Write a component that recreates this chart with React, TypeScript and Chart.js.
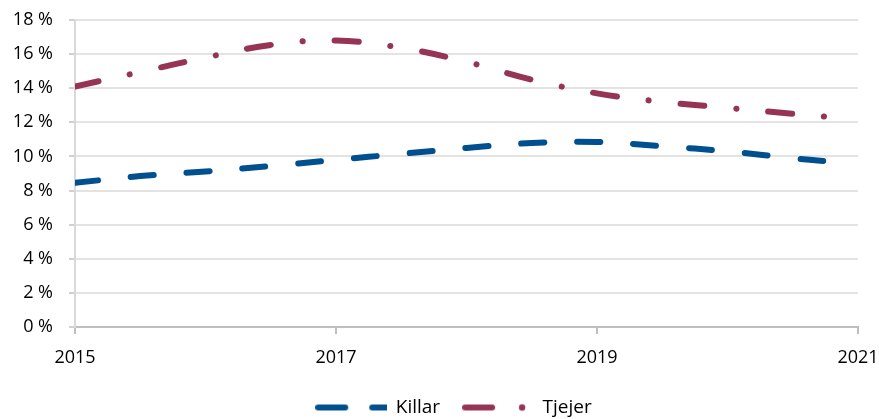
import { useEffect, useRef } from 'react';
import { Chart, registerables } from 'chart.js';

Chart.register(...registerables);

const years = [2015, 2015.5, 2016, 2016.5, 2017, 2017.5, 2018, 2018.5, 2019, 2019.5, 2020, 2020.5, 2020.8];
const killar = [8.45, 8.85, 9.12, 9.44, 9.8, 10.15, 10.5, 10.79, 10.85, 10.6, 10.3, 9.9, 9.68];
const tjejer = [14.1, 14.95, 15.8, 16.54, 16.8, 16.37, 15.55, 14.5, 13.7, 13.2, 12.85, 12.5, 12.3];
const xTicks = [2015, 2017, 2019, 2021];
const seriesNames = ['Killar', 'Tjejer'];

const KILLAR_COLOR = '#00508f';
const TJEJER_COLOR = '#963456';
const FONT = '"Open Sans", sans-serif';

function legendImage(kind: 'killar' | 'tjejer'): HTMLCanvasElement {
  const c = document.createElement('canvas');
  c.width = 72;
  c.height = 10;
  const ctx = c.getContext('2d')!;
  ctx.lineCap = 'round';
  ctx.lineWidth = 6;
  if (kind === 'killar') {
    ctx.strokeStyle = KILLAR_COLOR;
    ctx.beginPath();
    ctx.moveTo(3, 5);
    ctx.lineTo(30, 5);
    ctx.moveTo(57, 5);
    ctx.lineTo(71, 5);
    ctx.stroke();
  } else {
    ctx.strokeStyle = TJEJER_COLOR;
    ctx.fillStyle = TJEJER_COLOR;
    ctx.beginPath();
    ctx.moveTo(3, 5);
    ctx.lineTo(30, 5);
    ctx.stroke();
    ctx.beginPath();
    ctx.arc(60, 5, 3.2, 0, Math.PI * 2);
    ctx.fill();
  }
  return c;
}

const legendShift = {
  id: 'legendShift',
  afterLayout(chart: any) {
    if (chart.legend) {
      chart.legend.left += 29;
    }
  },
};

export default function App() {
  const ref = useRef<HTMLCanvasElement>(null);
  useEffect(() => {
    document.body.style.margin = '0';
    const imgs = [legendImage('killar'), legendImage('tjejer')];
    const chart = new Chart(ref.current!, {
      type: 'line',
      data: {
        datasets: [
          {
            label: seriesNames[0],
            data: years.map((x, i) => ({ x, y: killar[i] })),
            borderColor: KILLAR_COLOR,
            backgroundColor: KILLAR_COLOR,
            borderWidth: 6,
            borderDash: [23, 33],
            borderCapStyle: 'round',
            pointRadius: 0,
            tension: 0.4,
          },
          {
            label: seriesNames[1],
            data: years.map((x, i) => ({ x, y: tjejer[i] })),
            borderColor: TJEJER_COLOR,
            backgroundColor: TJEJER_COLOR,
            borderWidth: 6,
            borderDash: [24, 32, 0.1, 32],
            borderCapStyle: 'round',
            pointRadius: 0,
            tension: 0.4,
          },
        ],
      },
      plugins: [legendShift],
      options: {
        responsive: false,
        animation: false,
        layout: { padding: { top: 0, right: 0, left: 0, bottom: -8 } },
        scales: {
          x: {
            type: 'linear',
            min: 2015,
            max: 2021,
            afterBuildTicks: (scale: any) => {
              scale.ticks = xTicks.map((v) => ({ value: v }));
            },
            afterFit: (scale: any) => {
              scale.height = 48;
              scale.paddingRight = 21;
              scale.paddingLeft = 0;
            },
            ticks: {
              callback: (v: any) => String(v),
              color: '#000',
              font: { family: FONT, size: 18 },
              padding: 13,
              maxRotation: 0,
            },
            grid: {
              drawOnChartArea: false,
              drawTicks: true,
              tickLength: 7,
              color: '#bfbfbf',
              lineWidth: 2,
            },
            border: { color: '#bfbfbf', width: 2 },
          },
          y: {
            min: 0,
            max: 18,
            afterFit: (scale: any) => {
              scale.width = 75;
              scale.paddingTop = 20;
              scale.paddingBottom = 0;
            },
            ticks: {
              stepSize: 2,
              callback: (v: any) => v + ' %',
              color: '#000',
              font: { family: FONT, size: 18 },
              padding: 16,
            },
            grid: {
              color: '#e3e3e3',
              lineWidth: 2,
              tickLength: 6,
              tickColor: '#d0d0d0',
            },
            border: { color: '#d9d9d9', width: 2 },
          },
        },
        plugins: {
          tooltip: { enabled: false },
          legend: {
            position: 'bottom',
            labels: {
              usePointStyle: true,
              pointStyleWidth: 70,
              padding: 23,
              color: '#000',
              font: { family: FONT, size: 19 },
              generateLabels: (ch: any) =>
                ch.data.datasets.map((ds: any, i: number) => ({
                  text: ds.label,
                  pointStyle: imgs[i],
                  fillStyle: ds.borderColor,
                  strokeStyle: ds.borderColor,
                  lineWidth: 0,
                  hidden: false,
                  datasetIndex: i,
                  fontColor: '#000',
                })),
            },
          },
        },
      },
    } as any);
    return () => chart.destroy();
  }, []);
  return (
    <div style={{ width: 879, height: 419 }}>
      <canvas ref={ref} width={879} height={419} />
    </div>
  );
}
